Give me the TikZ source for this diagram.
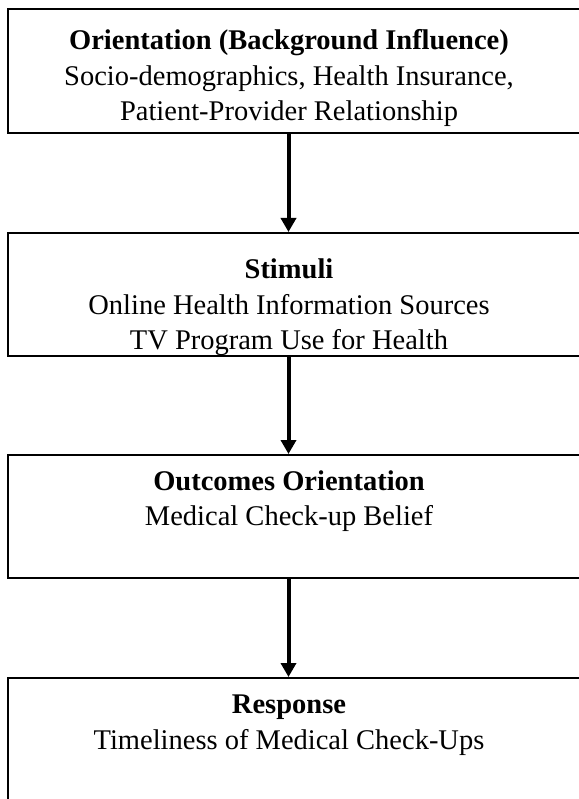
\documentclass[tikz,border=0pt]{standalone}
\usepackage{fontspec}
\setmainfont{Liberation Serif}
\usetikzlibrary{arrows.meta}
\begin{document}
\begin{tikzpicture}[x=1pt,y=1pt,
  box/.style={draw=black,line width=2pt,rectangle,inner sep=0pt},
  txt/.style={align=center,font=\fontsize{28.5}{35.5}\selectfont,inner sep=0pt},
  arr/.style={line width=4pt,-{Triangle[width=15pt,length=14pt]}}]
\useasboundingbox (0,0) rectangle (578,-799);
\node[box,minimum width=592pt,minimum height=124pt] (b1) at (304,-71) {};
\node[box,minimum width=592pt,minimum height=123pt] (b2) at (304,-294.5) {};
\node[box,minimum width=592pt,minimum height=123pt] (b3) at (304,-516.5) {};
\node[box,minimum width=592pt,minimum height=152pt] (b4) at (304,-754) {};
\node[txt] (t1) at (289,-78.5) {\textbf{Orientation (Background Influence)}\\Socio-demographics, Health Insurance,\\Patient-Provider Relationship};
\node[txt] (t2) at (289,-307.5) {\textbf{Stimuli}\\Online Health Information Sources\\TV Program Use for Health};
\node[txt] (t3) at (289,-501) {\textbf{Outcomes Orientation}\\Medical Check-up Belief};
\node[txt] (t4) at (289,-725) {\textbf{Response}\\Timeliness of Medical Check-Ups};
\draw[arr] (288.5,0 |- b1.south) -- (288.5,0 |- b2.north);
\draw[arr] (288.5,0 |- b2.south) -- (288.5,0 |- b3.north);
\draw[arr] (288.5,0 |- b3.south) -- (288.5,0 |- b4.north);
\end{tikzpicture}
\end{document}
